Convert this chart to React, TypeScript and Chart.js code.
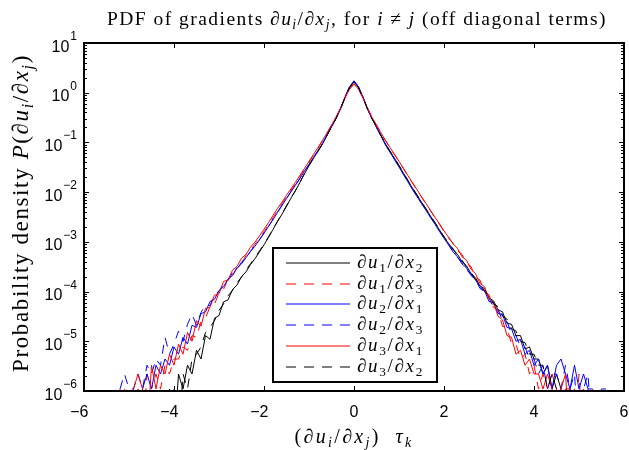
import React, { useEffect, useRef } from "react";
import { Chart, registerables } from "chart.js";

Chart.register(...registerables);

// Bin centres of the PDF (horizontal axis, (du_i/dx_j) tau_k)
const xValues = [
  -5.3, -5.2, -5.1, -5.0, -4.9, -4.8, -4.7, -4.6, -4.5, -4.4,
  -4.3, -4.2, -4.1, -4.0, -3.9, -3.8, -3.7, -3.6, -3.5, -3.4,
  -3.3, -3.2, -3.1, -3.0, -2.9, -2.8, -2.7, -2.6, -2.5, -2.4,
  -2.3, -2.2, -2.1, -2.0, -1.9, -1.8, -1.7, -1.6, -1.5, -1.4,
  -1.3, -1.2, -1.1, -1.0, -0.9, -0.8, -0.7, -0.6, -0.5, -0.4,
  -0.3, -0.2, -0.1, 0.0, 0.1, 0.2, 0.3, 0.4, 0.5, 0.6,
  0.7, 0.8, 0.9, 1.0, 1.1, 1.2, 1.3, 1.4, 1.5, 1.6,
  1.7, 1.8, 1.9, 2.0, 2.1, 2.2, 2.3, 2.4, 2.5, 2.6,
  2.7, 2.8, 2.9, 3.0, 3.1, 3.2, 3.3, 3.4, 3.5, 3.6,
  3.7, 3.8, 3.9, 4.0, 4.1, 4.2, 4.3, 4.4, 4.5, 4.6,
  4.7, 4.8, 4.9, 5.0, 5.1, 5.2, 5.3, 5.4, 5.5, 5.6,
  5.7,
];

// du1/dx2 (black, solid)
const pdfU1X2 = [
  null, null, null, null, null, null, null, null, null, null,
  null, null, 1.1e-6, 1e-7, 2.2e-6, 1.1e-6, 3.3e-6, 2.2e-6, 6.6e-6, 4.4e-6,
  1.3e-5, 1.1e-5, 2.9e-5, 3.3e-5, 6.2e-5, 6.8e-5, 1.1e-4, 1.35e-4, 2.0e-4, 2.5e-4,
  3.5e-4, 4.6e-4, 6.3e-4, 8.7e-4, 1.23e-3, 1.78e-3, 2.57e-3, 3.6e-3, 5.2e-3, 7.6e-3,
  0.0107, 0.0158, 0.0234, 0.034, 0.048, 0.066, 0.093, 0.138, 0.204, 0.30,
  0.47, 0.79, 1.26, 1.66, 1.26, 0.79, 0.47, 0.30, 0.204, 0.138,
  0.093, 0.066, 0.048, 0.034, 0.024, 0.017, 0.012, 8.7e-3, 6.3e-3, 4.6e-3,
  3.3e-3, 2.4e-3, 1.74e-3, 1.26e-3, 9.3e-4, 7.1e-4, 5.6e-4, 4.0e-4, 3.3e-4, 2.3e-4,
  1.9e-4, 1.3e-4, 1.15e-4, 7.5e-5, 6.5e-5, 4.3e-5, 3.9e-5, 2.3e-5, 2.2e-5, 1.3e-5,
  1.3e-5, 7.0e-6, 7.7e-6, 4.4e-6, 4.4e-6, 2.2e-6, 3.3e-6, 1.1e-6, 2.2e-6, 1.1e-6,
  1e-7, 1.1e-6, 1e-7, null, null, null, null, null, null, null,
  null,
];

// du1/dx3 (red, dashed)
const pdfU1X3 = [
  null, null, 1.1e-6, 1e-7, 1e-7, 1.1e-6, 1e-7, 2.2e-6, 1.1e-6, 2.2e-6,
  1.1e-6, 3.3e-6, 2.2e-6, 4.4e-6, 4.4e-6, 7.7e-6, 6.6e-6, 1.3e-5, 1.2e-5, 2.5e-5,
  2.9e-5, 5.0e-5, 5.5e-5, 9.5e-5, 1.1e-4, 1.8e-4, 2.1e-4, 3.1e-4, 3.7e-4, 5.3e-4,
  6.8e-4, 9.0e-4, 1.18e-3, 1.6e-3, 2.2e-3, 3.05e-3, 4.25e-3, 5.8e-3, 8.0e-3, 0.0109,
  0.0148, 0.0207, 0.0285, 0.040, 0.0555, 0.077, 0.107, 0.152, 0.221, 0.32,
  0.49, 0.79, 1.17, 1.52, 1.17, 0.79, 0.49, 0.32, 0.222, 0.153,
  0.108, 0.078, 0.0565, 0.041, 0.0295, 0.021, 0.0152, 0.0110, 8.0e-3, 5.8e-3,
  4.2e-3, 3.05e-3, 2.25e-3, 1.62e-3, 1.2e-3, 9.4e-4, 6.6e-4, 5.6e-4, 3.7e-4, 3.2e-4,
  1.9e-4, 1.7e-4, 9.8e-5, 8.6e-5, 4.8e-5, 4.2e-5, 2.0e-5, 1.9e-5, 8.8e-6, 8.8e-6,
  4.4e-6, 5.5e-6, 2.2e-6, 3.3e-6, 1.1e-6, 2.2e-6, 1.1e-6, 2.2e-6, 1.1e-6, 1e-7,
  1.1e-6, 1.1e-6, 1e-7, 2.2e-6, 1e-7, 1.1e-6, null, null, null, null,
  null,
];

// du2/dx1 (blue, solid)
const pdfU2X1 = [
  null, null, null, null, 1.1e-6, 1e-7, 1.1e-6, 2.2e-6, 1.1e-6, 3.3e-6,
  2.2e-6, 4.4e-6, 3.3e-6, 7.7e-6, 5.5e-6, 1.2e-5, 8.8e-6, 2.1e-5, 1.9e-5, 3.6e-5,
  3.9e-5, 6.3e-5, 7.0e-5, 1.05e-4, 1.25e-4, 1.8e-4, 2.1e-4, 2.95e-4, 3.6e-4, 4.8e-4,
  6.4e-4, 8.2e-4, 1.1e-3, 1.48e-3, 2.04e-3, 2.8e-3, 3.9e-3, 5.4e-3, 7.4e-3, 0.0102,
  0.0138, 0.019, 0.0263, 0.036, 0.050, 0.068, 0.095, 0.140, 0.21, 0.31,
  0.48, 0.82, 1.32, 1.74, 1.32, 0.82, 0.47, 0.30, 0.200, 0.134,
  0.089, 0.063, 0.045, 0.032, 0.0225, 0.016, 0.0113, 8.1e-3, 5.9e-3, 4.3e-3,
  3.1e-3, 2.25e-3, 1.62e-3, 1.18e-3, 8.7e-4, 6.3e-4, 5.0e-4, 3.6e-4, 3.0e-4, 2.1e-4,
  1.75e-4, 1.15e-4, 1.05e-4, 6.3e-5, 6.0e-5, 3.6e-5, 3.5e-5, 1.9e-5, 1.8e-5, 1.0e-5,
  1.1e-5, 5.5e-6, 6.6e-6, 3.3e-6, 4.4e-6, 2.2e-6, 3.3e-6, 1.1e-6, 3.3e-6, 4.4e-6,
  2.2e-6, 1.1e-6, 3.3e-6, 1.1e-6, 2.2e-6, 1.1e-6, 1.1e-6, 1e-7, 1.1e-6, 1.1e-6,
  null,
];

// du2/dx3 (blue, dashed)
const pdfU2X3 = [
  null, 1.1e-6, 2.2e-6, 1.1e-6, 1.1e-6, 2.2e-6, 1.1e-6, 3.3e-6, 2.2e-6, 4.4e-6,
  3.3e-6, 1.2e-5, 5.5e-6, 8.8e-6, 1.6e-5, 9.9e-6, 2.2e-5, 3.5e-5, 2.1e-5, 3.8e-5,
  5.4e-5, 5.2e-5, 9.0e-5, 1.0e-4, 1.45e-4, 1.65e-4, 2.4e-4, 2.8e-4, 3.9e-4, 4.8e-4,
  6.5e-4, 8.4e-4, 1.12e-3, 1.5e-3, 2.06e-3, 2.85e-3, 3.95e-3, 5.5e-3, 7.5e-3, 0.0103,
  0.0139, 0.0192, 0.0265, 0.0362, 0.0505, 0.069, 0.096, 0.141, 0.21, 0.31,
  0.48, 0.82, 1.31, 1.73, 1.31, 0.82, 0.47, 0.30, 0.201, 0.135,
  0.090, 0.064, 0.046, 0.0325, 0.023, 0.0163, 0.0115, 8.3e-3, 6.0e-3, 4.4e-3,
  3.15e-3, 2.3e-3, 1.66e-3, 1.2e-3, 9.0e-4, 6.6e-4, 4.8e-4, 3.9e-4, 2.7e-4, 2.3e-4,
  1.55e-4, 1.3e-4, 8.8e-5, 7.4e-5, 4.8e-5, 4.4e-5, 2.6e-5, 2.5e-5, 1.4e-5, 1.3e-5,
  7.7e-6, 7.7e-6, 4.4e-6, 4.4e-6, 2.2e-6, 3.3e-6, 1.1e-6, 2.2e-6, 2.2e-6, 1.1e-6,
  3.3e-6, 1.1e-6, 2.2e-6, 1e-7, 1.1e-6, 2.2e-6, 1e-7, 1.1e-6, 1e-7, 1.1e-6,
  null,
];

// du3/dx1 (red, solid)
const pdfU3X1 = [
  null, 1.1e-6, 1e-7, 1e-7, 1.1e-6, 2.2e-6, 1.1e-6, 1e-7, 3.3e-6, 1.1e-6,
  3.3e-6, 2.2e-6, 5.5e-6, 3.3e-6, 8.8e-6, 5.5e-6, 1.5e-5, 1.0e-5, 2.6e-5, 2.0e-5,
  4.6e-5, 4.8e-5, 8.5e-5, 9.0e-5, 1.6e-4, 1.7e-4, 2.7e-4, 3.2e-4, 4.7e-4, 5.6e-4,
  7.8e-4, 9.9e-4, 1.32e-3, 1.78e-3, 2.45e-3, 3.4e-3, 4.7e-3, 6.3e-3, 8.7e-3, 0.0117,
  0.0158, 0.0219, 0.030, 0.0417, 0.0575, 0.079, 0.110, 0.155, 0.224, 0.32,
  0.49, 0.79, 1.17, 1.51, 1.17, 0.79, 0.49, 0.32, 0.224, 0.155,
  0.110, 0.079, 0.0575, 0.0417, 0.030, 0.0214, 0.0155, 0.0112, 8.1e-3, 5.9e-3,
  4.3e-3, 3.1e-3, 2.3e-3, 1.66e-3, 1.25e-3, 9.1e-4, 7.4e-4, 5.0e-4, 4.3e-4, 2.8e-4,
  2.3e-4, 1.45e-4, 1.25e-4, 7.2e-5, 6.0e-5, 3.2e-5, 2.7e-5, 1.3e-5, 1.2e-5, 5.5e-6,
  6.6e-6, 3.3e-6, 4.4e-6, 2.2e-6, 2.2e-6, 1.1e-6, 2.2e-6, 1.1e-6, 1e-7, 1.1e-6,
  2.2e-6, 1e-7, 1.1e-6, 1e-7, 1.1e-6, 1e-7, 1.1e-6, null, null, null,
  null,
];

// du3/dx2 (black, dashed)
const pdfU3X2 = [
  null, null, null, null, null, null, null, null, null, null,
  null, null, null, 1.1e-6, 1e-7, 2.2e-6, 1.1e-6, 4.4e-6, 5.5e-6, 7.7e-6,
  1.5e-5, 1.9e-5, 2.6e-5, 4.2e-5, 5.6e-5, 8.2e-5, 1.05e-4, 1.5e-4, 1.95e-4, 2.7e-4,
  3.6e-4, 4.9e-4, 6.6e-4, 9.0e-4, 1.26e-3, 1.8e-3, 2.6e-3, 3.7e-3, 5.3e-3, 7.7e-3,
  0.0108, 0.0160, 0.0236, 0.0345, 0.049, 0.067, 0.094, 0.139, 0.205, 0.30,
  0.47, 0.80, 1.27, 1.68, 1.27, 0.80, 0.47, 0.30, 0.205, 0.139,
  0.094, 0.067, 0.049, 0.0345, 0.0243, 0.0172, 0.0122, 8.8e-3, 6.4e-3, 4.6e-3,
  3.3e-3, 2.45e-3, 1.75e-3, 1.28e-3, 9.2e-4, 7.3e-4, 5.2e-4, 4.3e-4, 3.1e-4, 2.5e-4,
  1.7e-4, 1.45e-4, 1.0e-4, 8.5e-5, 5.6e-5, 5.0e-5, 3.2e-5, 2.8e-5, 1.8e-5, 1.6e-5,
  1.0e-5, 9.4e-6, 5.5e-6, 5.5e-6, 3.3e-6, 3.3e-6, 1.1e-6, 2.2e-6, 1.1e-6, 1e-7,
  1.1e-6, 1e-7, null, null, null, null, null, null, null, null,
  null,
];

const seriesValues = [pdfU1X2, pdfU1X3, pdfU2X1, pdfU2X3, pdfU3X1, pdfU3X2];
const seriesIndices = [
  ["1", "2"],
  ["1", "3"],
  ["2", "1"],
  ["2", "3"],
  ["3", "1"],
  ["3", "2"],
];
const seriesColors = ["#000000", "#ff0000", "#0000ff", "#0000ff", "#ff0000", "#000000"];
const seriesDashed = [false, true, false, true, false, true];

const xTickValues = [-6, -4, -2, 0, 2, 4, 6];
const yTickValues = [10, 1, 0.1, 0.01, 0.001, 0.0001, 0.00001, 0.000001];
const yTickExponents = ["1", "0", "\u22121", "\u22122", "\u22123", "\u22124", "\u22125", "\u22126"];

type Seg = { t: string; it?: boolean; sub?: boolean };

const SERIF = "'Liberation Serif', 'Times New Roman', serif";
const SANS = "'Liberation Sans', Arial, Helvetica, sans-serif";

const titleSegs: Seg[] = [
  { t: "PDF of gradients " },
  { t: "\u2202", it: true },
  { t: "u", it: true },
  { t: "i", it: true, sub: true },
  { t: "/" },
  { t: "\u2202", it: true },
  { t: "x", it: true },
  { t: "j", it: true, sub: true },
  { t: ", for " },
  { t: "i", it: true },
  { t: " \u2260 " },
  { t: "j", it: true },
  { t: " (off diagonal terms)" },
];

const yLabelSegs: Seg[] = [
  { t: "Probability density " },
  { t: "P", it: true },
  { t: "(" },
  { t: "\u2202", it: true },
  { t: "u", it: true },
  { t: "i", it: true, sub: true },
  { t: "/" },
  { t: "\u2202", it: true },
  { t: "x", it: true },
  { t: "j", it: true, sub: true },
  { t: ")" },
];

const xLabelSegs: Seg[] = [
  { t: "(" },
  { t: "\u2202", it: true },
  { t: "u", it: true },
  { t: "i", it: true, sub: true },
  { t: "/" },
  { t: "\u2202", it: true },
  { t: "x", it: true },
  { t: "j", it: true, sub: true },
  { t: ")  " },
  { t: "\u03C4", it: true },
  { t: "k", it: true, sub: true },
];

const legendSegs = (a: string, b: string): Seg[] => [
  { t: "\u2202", it: true },
  { t: "u", it: true },
  { t: a, sub: true },
  { t: "/" },
  { t: "\u2202", it: true },
  { t: "x", it: true },
  { t: b, sub: true },
];

function layoutRich(ctx: any, segs: Seg[], size: number, family: string, ls: number) {
  if ("letterSpacing" in ctx) ctx.letterSpacing = "0px";
  return segs.map((s) => {
    const fs = s.sub ? size * 0.7 : size;
    const font = `${s.it ? "italic " : ""}${fs}px ${family}`;
    ctx.font = font;
    const n = Array.from(s.t).length;
    return { t: s.t, font, w: ctx.measureText(s.t).width + ls * n, dy: s.sub ? size * 0.22 : 0, n };
  });
}

function spacingFor(ctx: any, segs: Seg[], size: number, family: string, target: number) {
  const parts = layoutRich(ctx, segs, size, family, 0);
  const w = parts.reduce((a, p) => a + p.w, 0);
  const n = parts.reduce((a, p) => a + p.n, 0);
  return Math.max(0, (target - w) / n);
}

function drawRich(
  ctx: any,
  segs: Seg[],
  x: number,
  y: number,
  size: number,
  family: string,
  align: "left" | "center" | "right",
  ls: number
) {
  const parts = layoutRich(ctx, segs, size, family, ls);
  const total = parts.reduce((a, p) => a + p.w, 0);
  let cx = align === "center" ? x - total / 2 : align === "right" ? x - total : x;
  ctx.textAlign = "left";
  ctx.textBaseline = "alphabetic";
  if ("letterSpacing" in ctx) ctx.letterSpacing = `${ls}px`;
  for (const p of parts) {
    ctx.font = p.font;
    ctx.fillText(p.t, cx, y + p.dy);
    cx += p.w;
  }
  if ("letterSpacing" in ctx) ctx.letterSpacing = "0px";
}

const decorPlugin = {
  id: "decor",
  afterDraw(chart: any) {
    const { ctx, chartArea: a, scales } = chart;
    const xs = scales.x;
    const ys = scales.y;
    ctx.save();
    ctx.fillStyle = "#000";
    ctx.strokeStyle = "#000";

    // tick marks (inward, all four sides)
    ctx.lineWidth = 1;
    ctx.beginPath();
    for (const v of xTickValues) {
      const px = Math.round(xs.getPixelForValue(v)) + 0.5;
      ctx.moveTo(px, a.bottom);
      ctx.lineTo(px, a.bottom - 5);
      ctx.moveTo(px, a.top);
      ctx.lineTo(px, a.top + 5);
    }
    for (const v of yTickValues) {
      const py = Math.round(ys.getPixelForValue(v)) + 0.5;
      ctx.moveTo(a.left, py);
      ctx.lineTo(a.left + 5, py);
      ctx.moveTo(a.right, py);
      ctx.lineTo(a.right - 5, py);
    }
    for (let i = 1; i < yTickValues.length; i++) {
      const base = yTickValues[i];
      for (let m = 2; m <= 9; m++) {
        const py = Math.round(ys.getPixelForValue(base * m)) + 0.5;
        ctx.moveTo(a.left, py);
        ctx.lineTo(a.left + 3, py);
        ctx.moveTo(a.right, py);
        ctx.lineTo(a.right - 3, py);
      }
    }
    ctx.stroke();

    // axes box
    ctx.lineWidth = 2;
    ctx.strokeRect(a.left, a.top, a.right - a.left, a.bottom - a.top);

    // x tick labels (digits centred on the tick, minus sign hanging to the left)
    ctx.font = `16px ${SANS}`;
    ctx.textBaseline = "alphabetic";
    for (const v of xTickValues) {
      const px = xs.getPixelForValue(v);
      const digits = String(Math.abs(v));
      const w = ctx.measureText(digits).width;
      ctx.textAlign = "center";
      ctx.fillText(digits, px, a.bottom + 26);
      if (v < 0) {
        ctx.textAlign = "right";
        ctx.fillText("\u2212", px - w / 2, a.bottom + 26);
      }
    }

    // y tick labels 10^n
    yTickValues.forEach((v, i) => {
      const py = ys.getPixelForValue(v);
      const exp = yTickExponents[i];
      ctx.font = `12px ${SANS}`;
      const ew = ctx.measureText(exp).width;
      const right = a.left - 7;
      ctx.textAlign = "left";
      ctx.fillText(exp, right - ew, py - 3);
      ctx.font = `16px ${SANS}`;
      ctx.textAlign = "right";
      ctx.fillText("10", right - ew - 1, py + 8.5);
    });

    // title
    const tSize = 19.5;
    const tLs = spacingFor(ctx, titleSegs, tSize, SERIF, 500);
    drawRich(ctx, titleSegs, (a.left + a.right) / 2 + 3, 25, tSize, SERIF, "center", tLs);

    // x label
    const xlSize = 20;
    const xlLs = spacingFor(ctx, xLabelSegs, xlSize, SERIF, 119);
    drawRich(ctx, xLabelSegs, (a.left + a.right) / 2, 443, xlSize, SERIF, "center", xlLs);

    // y label
    const ylSize = 23;
    const ylLs = spacingFor(ctx, yLabelSegs, ylSize, SERIF, 318);
    ctx.save();
    ctx.translate(28, (a.top + a.bottom) / 2 - 4);
    ctx.rotate(-Math.PI / 2);
    drawRich(ctx, yLabelSegs, 0, 0, ylSize, SERIF, "center", ylLs);
    ctx.restore();

    // legend box
    const bx = 273;
    const by = 248;
    const bw = 164;
    const bh = 134;
    ctx.fillStyle = "#ffffff";
    ctx.fillRect(bx, by, bw, bh);
    ctx.lineWidth = 2;
    ctx.strokeStyle = "#000000";
    ctx.strokeRect(bx, by, bw, bh);
    const lSize = 19;
    const lLs = spacingFor(ctx, legendSegs("1", "2"), lSize, SERIF, 67);
    seriesIndices.forEach((ij, k) => {
      const ry = Math.round(by + 15 + k * 20.7);
      const x0 = bx + 13;
      const x1 = bx + 77;
      ctx.save();
      ctx.strokeStyle = seriesColors[k];
      ctx.lineWidth = 1.2;
      ctx.setLineDash(seriesDashed[k] ? [10, 8] : []);
      ctx.beginPath();
      ctx.moveTo(x0, ry);
      ctx.lineTo(x1, ry);
      ctx.stroke();
      ctx.restore();
      ctx.fillStyle = "#000000";
      drawRich(ctx, legendSegs(ij[0], ij[1]), bx + 84, ry + 5, lSize, SERIF, "left", lLs);
    });

    ctx.restore();
  },
};

export default function App() {
  const ref = useRef<HTMLCanvasElement | null>(null);

  useEffect(() => {
    document.body.style.margin = "0";
    const canvas = ref.current;
    if (!canvas) return;
    const datasets = seriesValues.map((vals, k) => ({
      label: `du${seriesIndices[k][0]}/dx${seriesIndices[k][1]}`,
      data: xValues.map((x, i) => ({ x, y: vals[i] })),
      borderColor: seriesColors[k],
      backgroundColor: seriesColors[k],
      borderWidth: 1,
      borderDash: seriesDashed[k] ? [9, 8] : [],
      pointRadius: 0,
      pointHoverRadius: 0,
      fill: false,
      tension: 0,
      spanGaps: false,
      order: seriesValues.length - k,
    }));
    const chart = new Chart(canvas, {
      type: "line",
      data: { datasets: datasets as any },
      options: {
        animation: false,
        responsive: false,
        events: [],
        layout: { padding: { left: 84, right: 5, top: 43, bottom: 59 } },
        scales: {
          x: { type: "linear", min: -6, max: 6, display: false },
          y: { type: "logarithmic", min: 1e-6, max: 10, display: false },
        },
        plugins: {
          legend: { display: false },
          title: { display: false },
          tooltip: { enabled: false },
        },
      },
      plugins: [decorPlugin],
    });
    return () => chart.destroy();
  }, []);

  return (
    <div style={{ width: 629, height: 450, background: "#fff" }}>
      <canvas ref={ref} width={629} height={450} style={{ display: "block" }} />
    </div>
  );
}
